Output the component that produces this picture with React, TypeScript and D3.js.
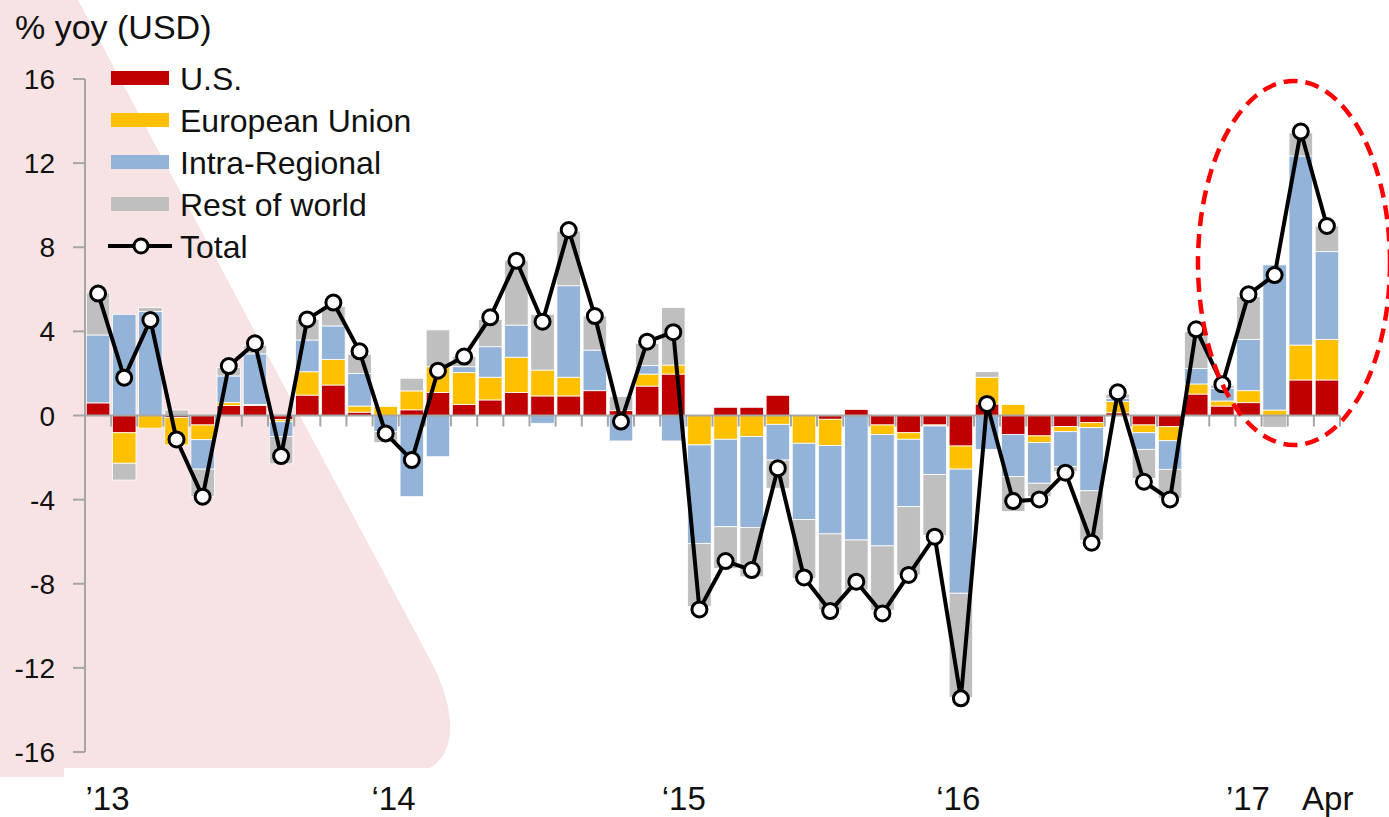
import React from "react";
import * as d3 from "d3";

const months: string[] = d3.range(48).map((i) => `m${i}`);

const usValues = [0.6, -0.82, 0, -0.1, -0.45, 0.47, 0.48, -0.2, 0.97, 1.45, 0.16, 0, 0.27, 1.1, 0.53, 0.74, 1.1, 0.93, 0.93, 1.18, 0.23, 1.4, 1.97, 0, 0.39, 0.39, 0.96, 0, -0.18, 0.29, -0.45, -0.82, -0.45, -1.45, 0.55, -0.9, -0.97, -0.53, -0.34, 0.13, -0.45, -0.53, 1.02, 0.45, 0.61, 0, 1.69, 1.69];
const euValues = [0, -1.45, -0.6, -1.3, -0.7, 0.14, 0.05, -0.1, 1.11, 1.22, 0.29, 0.43, 0.9, 1.22, 1.51, 1.08, 1.67, 1.23, 0.89, 0, 0, 0.57, 0.43, -1.4, -1.13, -1.0, -0.42, -1.32, -1.25, 0, -0.45, -0.31, -0.05, -1.1, 1.27, 0.53, -0.32, -0.24, -0.24, 0.53, -0.37, -0.67, 0.48, 0.24, 0.57, 0.26, 1.66, 1.93];
const intraValues = [3.23, 4.81, 4.94, 0, -1.4, 1.27, 2.4, -0.7, 1.51, 1.59, 1.55, -0.77, -3.86, -1.96, 0.28, 1.45, 1.53, -0.37, 4.35, 1.93, -1.21, 0.4, -1.21, -4.68, -4.16, -4.32, -1.7, -3.62, -4.2, -5.92, -5.3, -3.2, -2.3, -5.9, -1.61, -2.0, -1.93, -1.66, -3.0, 0.16, -0.79, -1.36, 0.74, 0.6, 2.44, 6.9, 8.99, 4.17];
const restValues = [2.0, -0.8, 0.19, 0.26, -1.3, 0.4, 0.4, -1.3, 0.98, 0.92, 0.91, -0.52, 0.6, 1.75, 0.48, 1.3, 3.06, 2.65, 2.6, 1.62, 0.67, 1.06, 2.74, -3.0, -1.98, -2.35, -1.34, -2.8, -3.62, -2.38, -3.06, -3.25, -2.9, -4.95, 0.26, -1.66, -0.64, -0.24, -2.35, 0.2, -1.38, -1.38, 1.74, 0.15, 2.03, -0.56, 1.1, 1.22];
const totalValues = [5.8, 1.8, 4.54, -1.14, -3.86, 2.35, 3.43, -1.93, 4.57, 5.37, 3.05, -0.85, -2.12, 2.13, 2.8, 4.67, 7.36, 4.46, 8.82, 4.73, -0.29, 3.51, 3.96, -9.22, -6.92, -7.35, -2.51, -7.7, -9.3, -7.9, -9.41, -7.58, -5.76, -13.45, 0.55, -4.07, -3.99, -2.72, -6.05, 1.1, -3.15, -3.99, 4.1, 1.48, 5.76, 6.68, 13.5, 9.01];

const seriesKeys = ["U.S.", "European Union", "Intra-Regional", "Rest of world"];
const seriesColors = ["#C00000", "#FFC000", "#93B3D8", "#BFBFBF"];
const yTicks = [16, 12, 8, 4, 0, -4, -8, -12, -16];
const xLabels = ["’13", "‘14", "‘15", "‘16", "’17", "Apr"];
const xLabelIndex = [0.36, 11.3, 22.4, 32.9, 43.98, 47.03];

const FONT = "'Liberation Sans', Arial, sans-serif";

export default function App() {
  const W = 1389;
  const H = 817;
  const left = 85;
  const right = 1340;

  const x = d3.scaleBand<string>().domain(months).range([left, right]).paddingInner(0.1).paddingOuter(0.05);
  const y = d3.scaleLinear().domain([-16, 16]).range([752, 79]);
  const step = x.step();
  const xIdx = d3.scaleLinear().domain([0, months.length - 1]).range([x(months[0])! + x.bandwidth() / 2, x(months[months.length - 1])! + x.bandwidth() / 2]);

  const table = months.map((m, i) => ({
    month: m,
    "U.S.": usValues[i],
    "European Union": euValues[i],
    "Intra-Regional": intraValues[i],
    "Rest of world": restValues[i],
  }));
  const stacked = d3.stack<any>().keys(seriesKeys).offset(d3.stackOffsetDiverging)(table);

  const line = d3
    .line<number>()
    .x((_, i) => x(months[i])! + x.bandwidth() / 2)
    .y((d) => y(d));

  const tickBoundaries = d3.range(months.length + 1).map((i) => left + i * step);

  const pinkPath = "M0,0 L78,0 L433,665 C453,705 460,750 430,768 L64,768 L64,777 L0,777 Z";

  const legendY = [78, 120, 162, 204];

  return (
    <svg width={W} height={H} style={{ position: "absolute", left: 0, top: 0, background: "#fff" }} fontFamily={FONT}>
      <rect x={0} y={0} width={W} height={H} fill="#fff" />
      <path d={pinkPath} fill="#F7E3E3" />

      {/* bars */}
      {stacked.map((s, si) => (
        <g key={s.key} fill={seriesColors[si]}>
          {s.map((d, i) => {
            const y0 = y(d[0]);
            const y1 = y(d[1]);
            const h = Math.abs(y0 - y1);
            if (h < 0.01) return null;
            return (
              <rect
                key={i}
                x={x(months[i])}
                y={Math.min(y0, y1)}
                width={x.bandwidth()}
                height={h}
                stroke="#fff"
                strokeWidth={0.8}
              />
            );
          })}
        </g>
      ))}

      {/* y axis */}
      <line x1={left} x2={left} y1={y(16)} y2={y(-16)} stroke="#A6A6A6" strokeWidth={2} />
      {yTicks.map((t) => (
        <g key={t}>
          <line x1={left - 12} x2={left} y1={y(t)} y2={y(t)} stroke="#A6A6A6" strokeWidth={2} />
          <text x={55} y={y(t)} dy="0.36em" textAnchor="end" fontSize={28} fill="#111">
            {t}
          </text>
        </g>
      ))}

      {/* zero axis */}
      <line x1={left} x2={right} y1={y(0)} y2={y(0)} stroke="#A6A6A6" strokeWidth={2} />
      {tickBoundaries.map((bx, i) => (
        <line key={i} x1={bx} x2={bx} y1={y(0)} y2={y(0) + 11} stroke="#A6A6A6" strokeWidth={2} />
      ))}

      {/* x labels */}
      {xLabels.map((lab, i) => (
        <text key={lab} x={xIdx(xLabelIndex[i])} y={810} textAnchor="middle" fontSize={33} fill="#111">
          {lab}
        </text>
      ))}

      {/* total line */}
      <path d={line(totalValues) || ""} fill="none" stroke="#000" strokeWidth={4} strokeLinejoin="round" />
      {totalValues.map((v, i) => (
        <circle key={i} cx={x(months[i])! + x.bandwidth() / 2} cy={y(v)} r={7.5} fill="#fff" stroke="#000" strokeWidth={3} />
      ))}

      {/* title */}
      <text x={15} y={39} fontSize={34} fill="#111">
        % yoy (USD)
      </text>

      {/* legend */}
      {seriesKeys.map((k, i) => (
        <g key={k}>
          <rect x={111} y={legendY[i] - 7} width={58} height={14} fill={seriesColors[i]} />
          <text x={180} y={legendY[i]} dy="0.36em" fontSize={32} fill="#111">
            {k}
          </text>
        </g>
      ))}
      <line x1={108} x2={172} y1={246} y2={246} stroke="#000" strokeWidth={4} />
      <circle cx={141} cy={246} r={7} fill="#fff" stroke="#000" strokeWidth={3} />
      <text x={180} y={246} dy="0.36em" fontSize={32} fill="#111">
        Total
      </text>

      {/* highlight ellipse */}
      <ellipse cx={1294} cy={263} rx={96} ry={182} fill="none" stroke="#FF0000" strokeWidth={4.5} strokeDasharray="14 8" />
    </svg>
  );
}
